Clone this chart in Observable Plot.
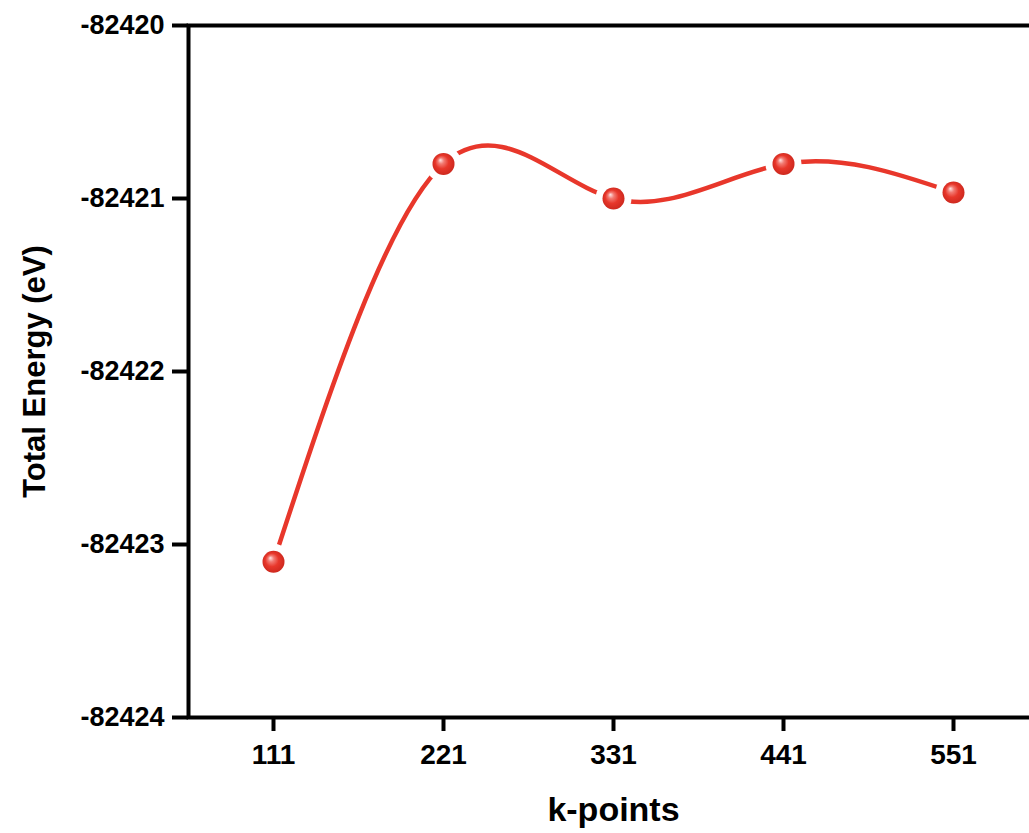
<!DOCTYPE html>
<html>
<head>
<meta charset="utf-8">
<script src="https://cdn.jsdelivr.net/npm/d3@7"></script>
<script src="https://cdn.jsdelivr.net/npm/@observablehq/plot@0.6"></script>
<style>
  html, body { margin: 0; padding: 0; background: #fff; overflow: hidden; }
  #chart svg { display: block; }
</style>
</head>
<body>
<div id="chart"></div>
<script>
const kpoints = ["111", "221", "331", "441", "551"];
const energy = [-82423.10, -82420.80, -82421.00, -82420.80, -82420.965];
const yTicks = [-82424, -82423, -82422, -82421, -82420];

const data = kpoints.map((k, i) => ({k, e: energy[i]}));
const font = "'Liberation Sans', Arial, sans-serif";

const plot = Plot.plot({
  width: 1029,
  height: 833,
  marginLeft: 188,
  marginRight: -9,
  marginTop: 25,
  marginBottom: 116,
  style: {fontFamily: font, background: "#fff", color: "#000", overflow: "visible"},
  x: {type: "point", domain: kpoints, padding: 0.5},
  y: {domain: [-82424, -82420]},
  marks: [
    Plot.line(data, {x: "k", y: "e", curve: "natural", stroke: "#e8372b", strokeWidth: 4.5}),
    Plot.dot(data, {x: "k", y: "e", r: 18, fill: "#fff", stroke: "none"}),
    Plot.dot(data, {x: "k", y: "e", r: 11, fill: "url(#ballGrad)", stroke: "none"}),
    Plot.axisY({ticks: yTicks, tickSize: 16, tickPadding: 8, fontSize: 27, fontWeight: "bold",
      strokeWidth: 4, tickFormat: d => String(d), label: null}),
    Plot.axisX({tickSize: 14, tickPadding: 13, fontSize: 28, fontWeight: "bold",
      strokeWidth: 4, label: null}),
    Plot.frame({stroke: "#000", strokeWidth: 4}),
    Plot.text(["Total Energy (eV)"], {frameAnchor: "left", dx: -153, rotate: -90,
      textAnchor: "middle", fontSize: 31, fontWeight: "bold", fill: "#000"}),
    Plot.text(["k-points"], {frameAnchor: "bottom", dy: 103, textAnchor: "middle",
      fontSize: 34, fontWeight: "bold", fill: "#000"})
  ]
});

const svg = d3.select(plot);
const defs = svg.insert("defs", ":first-child");
const g = defs.append("radialGradient").attr("id", "ballGrad")
  .attr("cx", "50%").attr("cy", "50%").attr("r", "55%")
  .attr("fx", "35%").attr("fy", "32%");
g.append("stop").attr("offset", "0%").attr("stop-color", "#ffe6e6");
g.append("stop").attr("offset", "25%").attr("stop-color", "#f27a72");
g.append("stop").attr("offset", "55%").attr("stop-color", "#e8372b");
g.append("stop").attr("offset", "100%").attr("stop-color", "#c9261c");

document.getElementById("chart").appendChild(plot);
</script>
</body>
</html>
